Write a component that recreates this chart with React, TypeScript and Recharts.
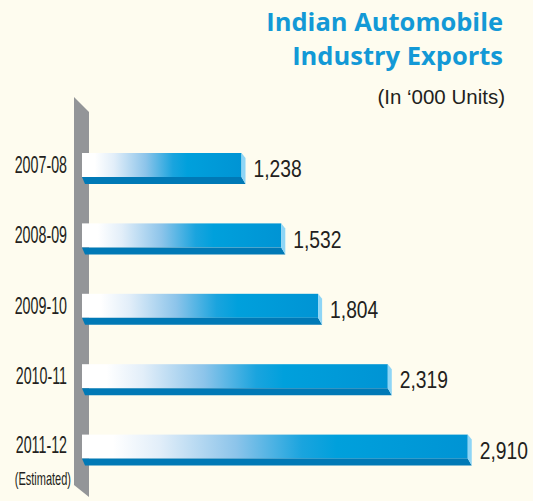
import { BarChart, Bar, XAxis, YAxis, LabelList } from 'recharts';

const categories = ['2007-08', '2008-09', '2009-10', '2010-11', '2011-12'];
const exportsK = [1238, 1532, 1804, 2319, 2910];
const notes = ['', '', '', '', '(Estimated)'];

const data = categories.map((year, i) => ({ year, value: exportsK[i], note: notes[i] }));

// no narrow font installed, so squeeze Liberation Sans horizontally
const SANS = '"Liberation Sans", Arial, sans-serif';
const BG = '#fefcef';
const DEPTH = 7; // thickness of bottom face
const SIDE = 4; // sideways skew of 3d faces
const INSET = 8; // bar face starts a bit right of the gray axis post

// 3d-ish bar: gradient front, dark bottom face, light right face
function Bar3D(props: any) {
  const { x, y, width, height } = props;
  const fh = height - DEPTH;
  const r = x + width;
  return (
    <g>
      <rect x={x + INSET} y={y} width={width - INSET} height={fh} fill="url(#barFace)" />
      <polygon
        points={`${x + INSET},${y + fh} ${r},${y + fh} ${r + SIDE},${y + height} ${x + INSET + 3},${y + height}`}
        fill="#0079b6"
      />
      <polygon
        points={`${r},${y} ${r + SIDE},${y + 5} ${r + SIDE},${y + height} ${r},${y + fh}`}
        fill="#8ed5f6"
      />
    </g>
  );
}

function YearTick(props: any) {
  const { x, y, payload } = props;
  const note = notes[payload.index] ?? '';
  return (
    <g>
      <g transform={`translate(${x},${y - (note ? 5 : 3)}) scale(0.62,1)`}>
        <text textAnchor="end" dominantBaseline="central" fontFamily={SANS} fontSize={23} fill="#231f20">
          {payload.value}
        </text>
      </g>
      {note && (
        <g transform={`translate(${x + 4},${y + 28}) scale(0.58,1)`}>
          <text textAnchor="end" dominantBaseline="central" fontFamily={SANS} fontSize={19} fill="#231f20">
            {note}
          </text>
        </g>
      )}
    </g>
  );
}

function ValueLabel(props: any) {
  const { x, y, width, height, value } = props;
  return (
    <g transform={`translate(${x + width + 12},${y + height / 2 + 1}) scale(0.82,1)`}>
      <text dominantBaseline="central" fontFamily={SANS} fontSize={23.5} fill="#231f20">
        {Number(value).toLocaleString('en-US')}
      </text>
    </g>
  );
}

export default function App() {
  return (
    <div style={{ position: 'relative', width: 533, height: 501, background: BG, overflow: 'hidden' }}>
      <style>{'body{margin:0}'}</style>

      {/* gray post behind the bars */}
      <svg width={533} height={501} style={{ position: 'absolute', left: 0, top: 0 }}>
        <polygon points="74,97 89,112 89,497 74,485" fill="#939598" />
      </svg>

      <div
        style={{
          position: 'absolute',
          right: 30,
          top: 4,
          textAlign: 'right',
          fontFamily: '"Open Sans", sans-serif',
          fontWeight: 700,
          fontSize: 25.5,
          lineHeight: '34px',
          color: '#1399d6',
        }}
      >
        Indian Automobile
        <br />
        Industry Exports
      </div>
      <div
        style={{
          position: 'absolute',
          right: 28,
          top: 85,
          fontFamily: SANS,
          fontSize: 20.5,
          color: '#231f20',
        }}
      >
        (In ‘000 Units)
      </div>

      <div style={{ position: 'absolute', left: 0, top: 0 }}>
        <BarChart
          width={533}
          height={501}
          data={data}
          layout="vertical"
          margin={{ top: 133, right: 26, bottom: 16, left: 0 }}
          barCategoryGap={0}
        >
          <defs>
            <linearGradient id="barFace" x1="0" y1="0" x2="1" y2="0">
              <stop offset="0%" stopColor="#ffffff" />
              <stop offset="8%" stopColor="#ffffff" />
              <stop offset="20%" stopColor="#e2eef9" />
              <stop offset="40%" stopColor="#8cc4ea" />
              <stop offset="57%" stopColor="#1aa4de" />
              <stop offset="66%" stopColor="#00a0dc" />
              <stop offset="100%" stopColor="#0094d4" />
            </linearGradient>
          </defs>
          <XAxis type="number" domain={[0, 3200]} hide />
          <YAxis
            type="category"
            dataKey="year"
            width={74}
            axisLine={false}
            tickLine={false}
            tickSize={0}
            tickMargin={7}
            tick={<YearTick />}
            interval={0}
          />
          <Bar dataKey="value" barSize={31} shape={<Bar3D />} isAnimationActive={false}>
            <LabelList dataKey="value" content={<ValueLabel />} />
          </Bar>
        </BarChart>
      </div>
    </div>
  );
}
